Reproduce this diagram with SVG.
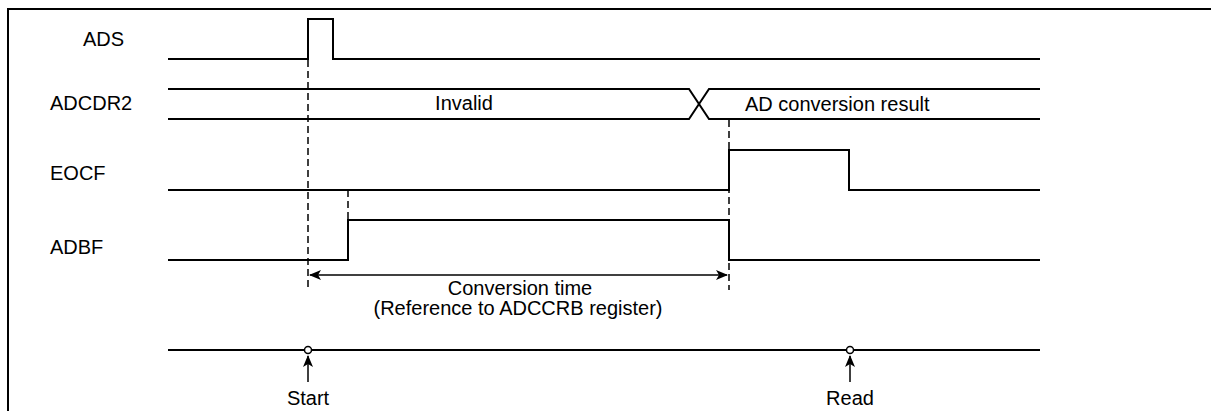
<svg xmlns="http://www.w3.org/2000/svg" width="1211" height="411" viewBox="0 0 1211 411">
<style>
.sig{fill:none;stroke:#000;stroke-width:2;stroke-linejoin:miter}
.dash{fill:none;stroke:#000;stroke-width:1.5;stroke-dasharray:7,4}
.thin{fill:none;stroke:#000;stroke-width:1.5}
.lbl{font-family:"Liberation Sans",Arial,sans-serif;font-size:20px;fill:#000}
.mid{text-anchor:middle}
</style>
<defs>
<marker id="ah" viewBox="0 0 12 10" refX="11" refY="5" markerWidth="12" markerHeight="10" markerUnits="userSpaceOnUse" orient="auto-start-reverse">
<path d="M0,0 L12,5 L0,10 L3,5 Z" fill="#000"/>
</marker>
</defs>
<rect width="1211" height="411" fill="#fff"/>
<g id="frame">
<path d="M8,411 V9 H1211" fill="none" stroke="#000" stroke-width="2"/>
</g>
<g id="sig-ads">
<text class="lbl" x="83" y="46">ADS</text>
<path class="sig" d="M168,59 H308 V19 H333 V59 H1040"/>
</g>
<g id="sig-adcdr2">
<text class="lbl" x="50" y="110">ADCDR2</text>
<path class="sig" d="M168,89 H689 L709,119 H1040"/>
<path class="sig" d="M168,119 H689 L709,89 H1040"/>
<text class="lbl mid" x="464" y="110">Invalid</text>
<text class="lbl" x="745" y="111">AD conversion result</text>
</g>
<g id="sig-eocf">
<text class="lbl" x="50" y="180">EOCF</text>
<path class="sig" d="M168,190 H729 V150 H849 V190 H1040"/>
</g>
<g id="sig-adbf">
<text class="lbl" x="50" y="254">ADBF</text>
<path class="sig" d="M168,260 H348 V220 H729 V260 H1040"/>
</g>
<g id="timeline">
<path class="sig" d="M168,350 H1040"/>
<circle cx="308" cy="350" r="3.5" fill="#fff" stroke="#000" stroke-width="1.5"/>
<circle cx="850" cy="350" r="3.5" fill="#fff" stroke="#000" stroke-width="1.5"/>
<text class="lbl mid" x="308" y="405">Start</text>
<text class="lbl mid" x="850" y="405">Read</text>
</g>
<g id="connectors">
<path class="dash" d="M308,60 V290"/>
<path class="dash" d="M729,120 V290"/>
<path class="dash" d="M348,190 V220"/>
<path class="thin" d="M310,275 H727" marker-start="url(#ah)" marker-end="url(#ah)"/>
<path class="thin" d="M308,382 V356" marker-end="url(#ah)"/>
<path class="thin" d="M850,382 V356" marker-end="url(#ah)"/>
<text class="lbl mid" x="520" y="295">Conversion time</text>
<text class="lbl mid" x="518" y="315">(Reference to ADCCRB register)</text>
</g>
</svg>
